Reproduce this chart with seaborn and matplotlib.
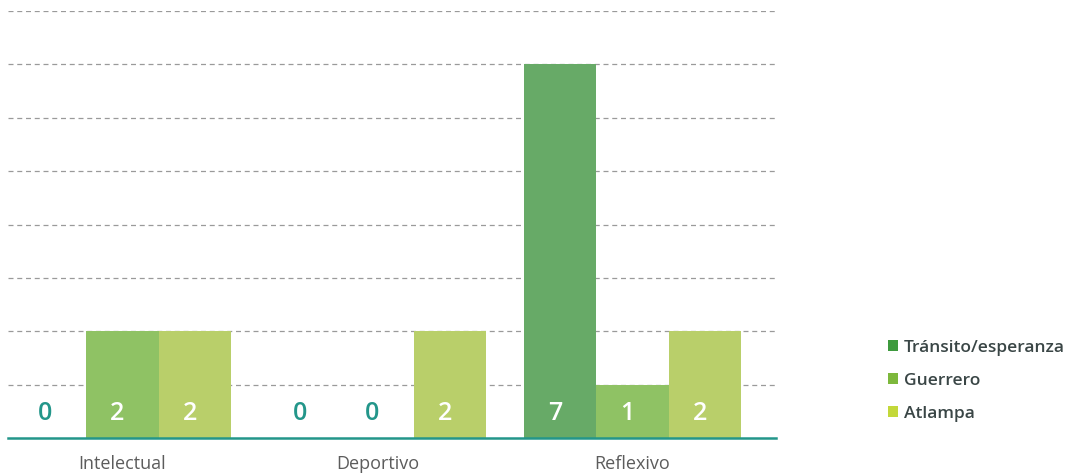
import pandas as pd
import matplotlib.pyplot as plt
from matplotlib.patches import Patch
import seaborn as sns

# ── Data ─────────────────────────────────────────────────
categories = ["Intelectual", "Deportivo", "Reflexivo"]
series = ["Tránsito/esperanza", "Guerrero", "Atlampa"]
transito = [0, 0, 7]
guerrero = [2, 0, 1]
atlampa = [2, 2, 2]

BAR_COLORS = ["#67AA67", "#8FC264", "#B9CF6A"]
LEG_COLORS = ["#3E9A3E", "#7DB83C", "#C3D83A"]
TEAL = "#23968A"
GRID_CLR = "#9A9A9A"
TEXT_CLR = "#5C5C5C"

df = pd.DataFrame({
    "categoria": categories * 3,
    "grupo": [s for s in series for _ in categories],
    "valor": transito + guerrero + atlampa,
})

sns.set_theme(style="white")
plt.rcParams["font.family"] = ["Open Sans", "DejaVu Sans"]

fig = plt.figure(figsize=(10.74, 4.75), dpi=100)
ax = fig.add_axes([8 / 1074, 1 - 438 / 475, 768 / 1074, 427 / 475])

sns.barplot(data=df, x="categoria", y="valor", hue="grupo",
            order=categories, hue_order=series, palette=BAR_COLORS,
            width=0.85, saturation=1, linewidth=0, ax=ax, legend=False, zorder=2)

ax.set_ylim(0, 8)
ax.set_xlim(-0.449, 2.563)
ax.set_yticks(range(1, 9))
ax.yaxis.grid(True, color=GRID_CLR, linestyle=(0, (4, 3)), linewidth=0.9)
ax.set_axisbelow(True)
ax.tick_params(axis="y", left=False, labelleft=False)
ax.tick_params(axis="x", bottom=False, labelsize=13, labelcolor=TEXT_CLR, pad=6)
ax.set_xlabel("")
ax.set_ylabel("")
for side in ["top", "left", "right"]:
    ax.spines[side].set_visible(False)
ax.spines["bottom"].set_color(TEAL)
ax.spines["bottom"].set_linewidth(1.8)
ax.spines["bottom"].set_zorder(3)

# value labels near the bottom of each bar
for cont in ax.containers:
    for bar in cont:
        h = bar.get_height()
        ax.text(bar.get_x() + bar.get_width() / 2 - 0.02, 0.45, f"{h:.0f}",
                ha="center", va="center", fontsize=18, fontweight="semibold",
                zorder=4, color=TEAL if h == 0 else "white")

handles = [Patch(facecolor=c, edgecolor="none") for c in LEG_COLORS]
fig.legend(handles, series, loc="upper left", bbox_to_anchor=(872 / 1074, 1 - 324 / 475),
           frameon=False, handlelength=0.62, handleheight=0.62,
           handletextpad=0.3, labelspacing=0.98, labelcolor="#3A4646",
           prop={"size": 12.5, "weight": "semibold"})

fig.savefig("out.png", dpi=100)
plt.close()
